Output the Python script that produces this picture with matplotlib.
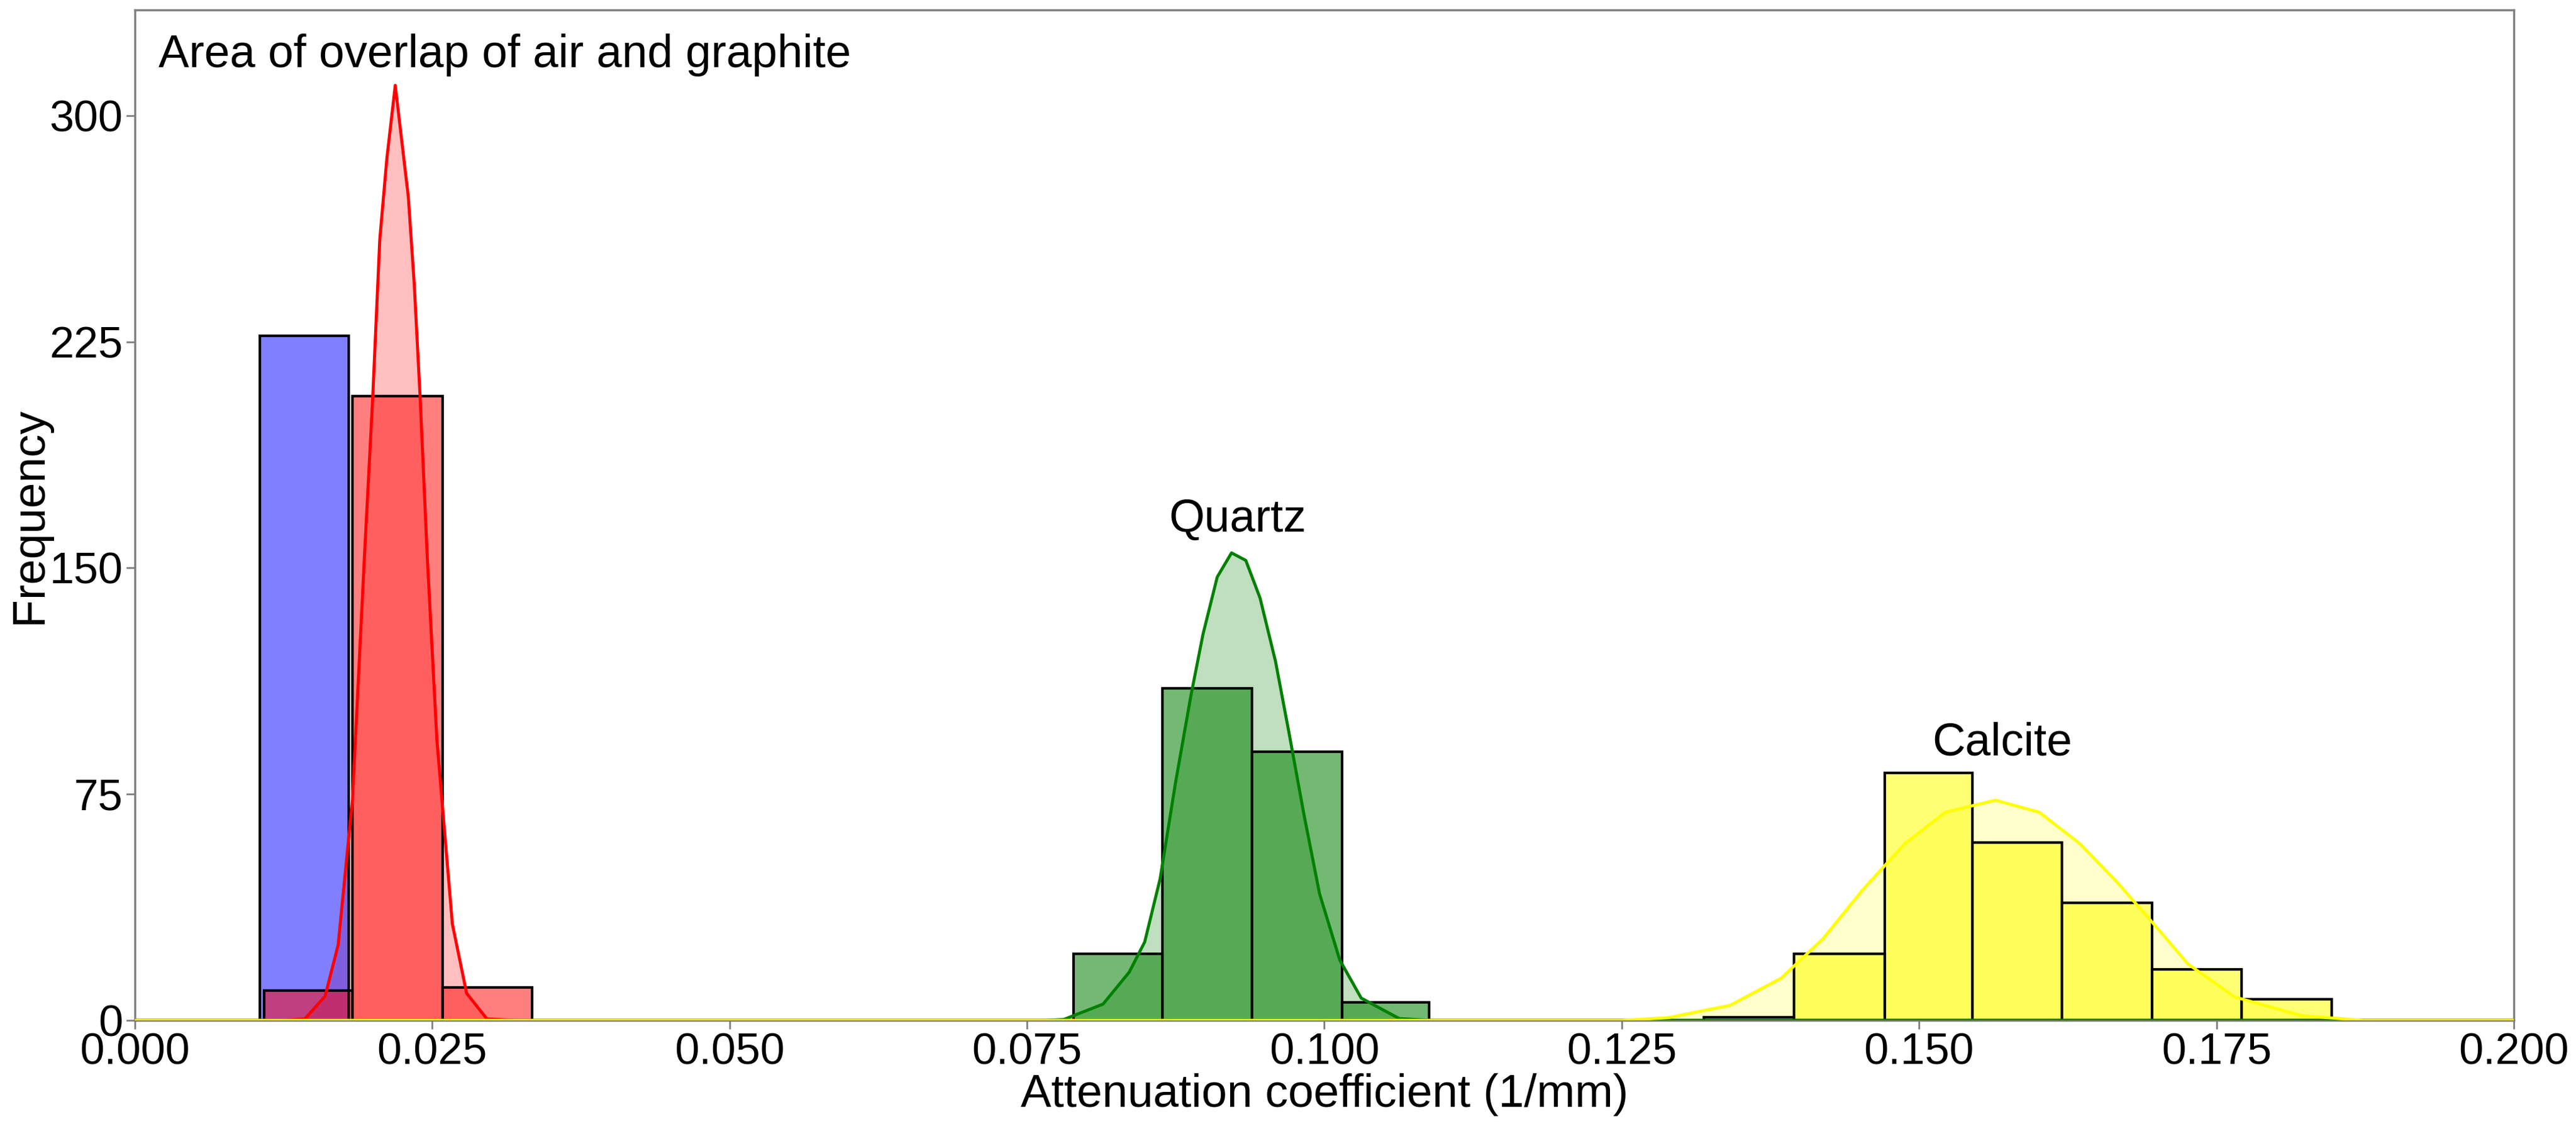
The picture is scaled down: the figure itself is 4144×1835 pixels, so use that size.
import numpy as np
import matplotlib
matplotlib.use("Agg")
import matplotlib.pyplot as plt

plt.rcParams['font.family'] = ['Liberation Sans', 'DejaVu Sans']

# histogram bins (edges) and counts
air_edges = [0.0105, 0.0180]
air_counts = [227]
graphite_edges = [0.0109, 0.0183, 0.0259, 0.0334]
graphite_counts = [10, 207, 11]
quartz_edges = [0.0789, 0.0864, 0.0939, 0.1015, 0.1088]
quartz_counts = [22, 110, 89, 6]
calcite_edges = [0.1319, 0.1395, 0.1471, 0.1545, 0.1620, 0.1696, 0.1771, 0.1847]
calcite_counts = [1, 22, 82, 59, 39, 17, 7]

# density curves
graphite_kde_x = [0.0, 0.0125, 0.0143, 0.0160, 0.0171, 0.0183, 0.0193, 0.0200, 0.0206,
                  0.0212, 0.0219, 0.0230, 0.0235, 0.0240, 0.0246, 0.0254, 0.0267,
                  0.0279, 0.0296, 0.0320, 0.2]
graphite_kde_y = [0, 0, 0.5, 8, 25, 73, 153, 206, 259, 286, 310, 273, 244, 206, 153,
                  93, 32, 9, 0.5, 0, 0]
quartz_kde_x = [0.0, 0.0765, 0.0781, 0.0814, 0.0836, 0.0849, 0.0862, 0.0875, 0.0888,
                0.0898, 0.0910, 0.0922, 0.0934, 0.0946, 0.0959, 0.0970, 0.0983,
                0.0996, 0.1013, 0.1031, 0.1063, 0.1090, 0.2]
quartz_kde_y = [0, 0, 0.3, 5.4, 16, 26, 47, 79, 108, 128, 147, 155, 152.5, 140, 119,
                96, 68, 42, 20, 7.4, 0.6, 0, 0]
calcite_kde_x = [0.0, 0.1250, 0.1289, 0.1341, 0.1384, 0.1419, 0.1453, 0.1488, 0.1522,
                 0.1564, 0.1601, 0.1635, 0.1666, 0.1696, 0.1726, 0.1765, 0.1821,
                 0.1873, 0.2]
calcite_kde_y = [0, 0, 0.9, 5, 14, 27, 43.5, 58.6, 69, 73, 69, 58.6, 46, 32.5, 18.7,
                 7.8, 1.6, 0, 0]

x_ticks = [0.0, 0.025, 0.05, 0.075, 0.1, 0.125, 0.15, 0.175, 0.2]
y_ticks = [0, 75, 150, 225, 300]

fig = plt.figure(figsize=(41.44, 18.35), dpi=100)
ax = fig.add_axes([0.0523, 0.1057, 0.9236, 0.8856])


def draw_hist(edges, counts, color, alpha):
    edges = np.array(edges)
    ax.bar(edges[:-1], counts, width=np.diff(edges), align='edge', color=color,
           alpha=alpha, edgecolor='none', zorder=2)
    ax.bar(edges[:-1], counts, width=np.diff(edges), align='edge', fill=False,
           edgecolor='black', linewidth=3, zorder=3)


def draw_kde(x, y, color, fill_alpha):
    ax.fill_between(x, 0, y, color=color, alpha=fill_alpha, linewidth=0, zorder=1)
    ax.plot(x, y, color=color, linewidth=3.5, zorder=4)


draw_hist(air_edges, air_counts, 'blue', 0.5)
draw_hist(graphite_edges, graphite_counts, 'red', 0.5)
draw_kde(graphite_kde_x, graphite_kde_y, 'red', 0.25)
draw_hist(quartz_edges, quartz_counts, 'green', 0.55)
draw_kde(quartz_kde_x, quartz_kde_y, 'green', 0.25)
draw_hist(calcite_edges, calcite_counts, 'yellow', 0.55)
draw_kde(calcite_kde_x, calcite_kde_y, 'yellow', 0.2)

ax.set_xlim(0, 0.2)
ax.set_ylim(0, 335)
ax.set_xticks(x_ticks)
ax.set_xticklabels(['%.3f' % t for t in x_ticks])
ax.set_yticks(y_ticks)
ax.tick_params(labelsize=51, length=10, width=2, color='#808080', pad=4)

for s in ax.spines.values():
    s.set_color('#808080')
    s.set_linewidth(2.5)

ax.set_xlabel('Attenuation coefficient (1/mm)', fontsize=53, labelpad=0)
ax.set_ylabel('Frequency', fontsize=53, labelpad=-2)

ax.text(0.002, 320, 'Area of overlap of air and graphite', fontsize=53,
        ha='left', va='center')
ax.text(0.0927, 166, 'Quartz', fontsize=53, ha='center', va='center')
ax.text(0.1570, 92, 'Calcite', fontsize=53, ha='center', va='center')

fig.savefig('out.png', dpi=100)
